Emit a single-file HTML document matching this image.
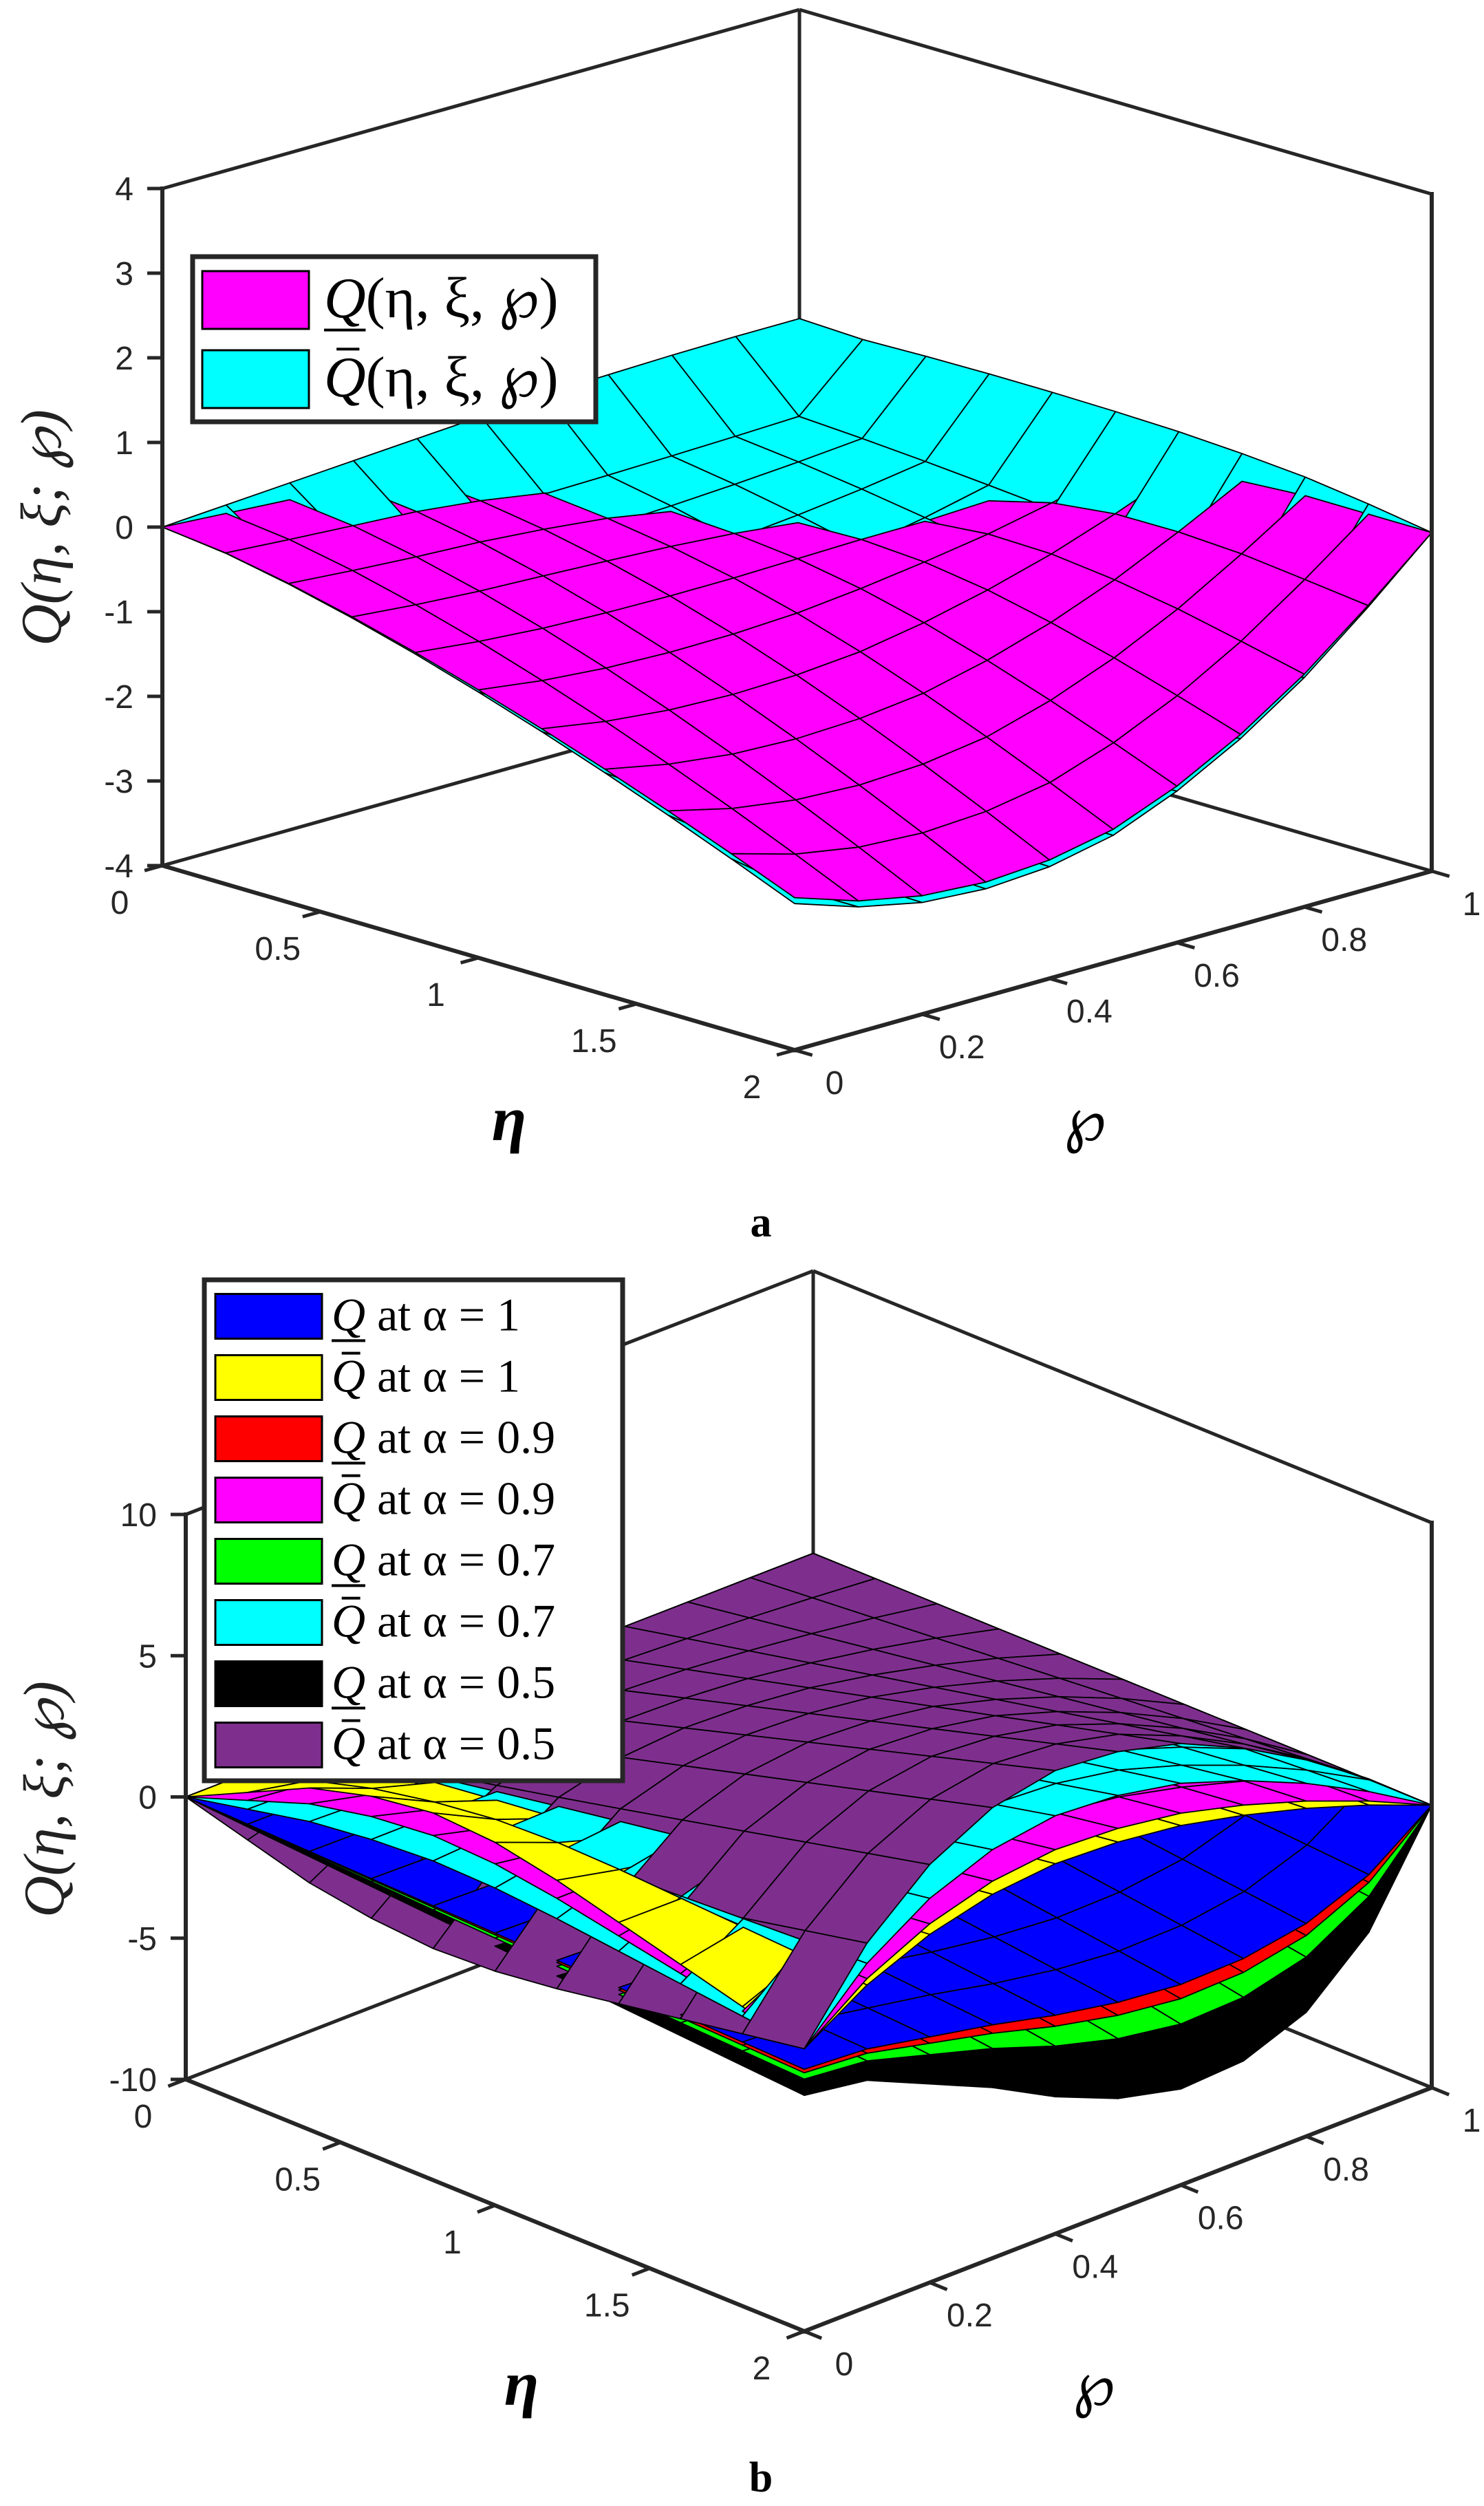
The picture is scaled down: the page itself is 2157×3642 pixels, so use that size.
<!DOCTYPE html>
<html><head><meta charset="utf-8"><title>Fuzzy surfaces Q(η, ξ; ℘)</title>
<style>
html,body{margin:0;padding:0;background:#fff;}
svg{display:block;}
</style></head>
<body>
<svg id="fig" xmlns="http://www.w3.org/2000/svg" width="2157" height="3642" viewBox="0 0 2157 3642">
<rect x="0" y="0" width="2157" height="3642" fill="#fff"/>
<g id="chartA"></g>
<g id="chartB"></g>
</svg>
<script>
// ---- shared grid data ----
const etaGrid = [0,0.2,0.4,0.6,0.8,1.0,1.2,1.4,1.6,1.8,2.0];
const phiGrid = [0,0.1,0.2,0.3,0.4,0.5,0.6,0.7,0.8,0.9,1.0];
const etaTicks = [0,0.5,1,1.5,2];
const etaTickLabels = ["0","0.5","1","1.5","2"];
const phiTicks = [0,0.2,0.4,0.6,0.8,1];
const phiTickLabels = ["0","0.2","0.4","0.6","0.8","1"];
// ---- chart a data ----
const aZTicks = [-4,-3,-2,-1,0,1,2,3,4];
const aZTickLabels = ["-4","-3","-2","-1","0","1","2","3","4"];
const aFrontEta = [0,0.04,0.105,0.185,0.277,0.379,0.489,0.607,0.732,0.863,1];
const aLowerFrontPhi = [-2.2,-2.45,-2.6,-2.65,-2.6,-2.45,-2.15,-1.75,-1.25,-0.65,0];
const aLowerBackEta = [1,0.85,0.65,0.45,0.27,0.14,0.06,0.02,0,0,0];
const aLowerBackPhi = [0,-0.05,-0.1,-0.15,-0.25,-0.4,-0.65,-1.0,-1.5,-2.0,-2.4];
const aUpperFrontPhi = [-2.27,-2.52,-2.68,-2.73,-2.68,-2.52,-2.21,-1.8,-1.29,-0.67,0];
const aUpperInnerEta = [0,1,1,1,1,1,1,1,1,1,0];
const aUpperInnerPhi = [0,-0.35,-0.35,-0.35,-0.35,-0.35,-0.35,-0.35,-0.35,-0.35,0];
const aUpperEdgeEta0 = [1,0,0,0,0,0,0,0,0,0,0];
const aUpperEdgePhi0 = [0,0.05,0.1,0.15,0.2,0.25,0.3,0.32,0.34,0.35,0.35];
const aUpperEdgeEta1 = [0,0.32,0.34,0.35,0.35,0.34,0.32,0.28,0.22,0.12,0];
const aUpperEdgePhi1 = [0,0,0,0,0,0,0,0,0,0,1];
// ---- chart b data ----
const bZTicks = [-10,-5,0,5,10];
const bZTickLabels = ["-10","-5","0","5","10"];
const bEta = [0,0.1,0.2,0.3,0.4,0.5,0.6,0.7,0.8,0.9,1];
const bUpperPhi = [0,0.45,0.75,0.93,1,0.97,0.88,0.72,0.52,0.28,0];
const bLowerPhi = [0.25,0.3,0.45,0.6,0.78,0.92,1,0.98,0.85,0.55,0];
const bFlapEta = [0,0.35,0.7,0.9,1,0.95,0.8,0.6,0.4,0.2,0];
const bFlapPhi = [1,0.45,0.05,0,0,0,0,0,0,0,0];
const bPurpleAmp = [6.4,6.4,6.4,6.4,6.4,6.4,6.4,6.4,6.4,6.4,6.4];
const bCyanAmp = [4.8,4.8,4.8,4.8,4.8,4.8,4.8,4.8,4.8,4.8,4.8];
const bMagentaAmp = [3.6,3.6,3.6,3.6,3.6,3.6,3.6,3.6,3.6,3.6,3.6];
const bYellowAmp = [3.1,3.1,3.1,3.1,3.1,3.1,3.1,3.1,3.1,3.1,3.1];
const bPurpleFlap = [-1.8,-1.8,-1.8,-1.8,-1.8,-1.8,-1.8,-1.8,-1.8,-1.8,-1.8];
const bCyanFlap = [1.3,1.3,1.3,1.3,1.3,1.3,1.3,1.3,1.3,1.3,1.3];
const bMagentaFlap = [2.2,2.2,2.2,2.2,2.2,2.2,2.2,2.2,2.2,2.2,2.2];
const bYellowFlap = [3.0,3.0,3.0,3.0,3.0,3.0,3.0,3.0,3.0,3.0,3.0];
const bBlueAmp = [-2.9,-2.9,-2.9,-2.9,-2.9,-2.9,-2.9,-2.9,-2.9,-2.9,-2.9];
const bRedAmp = [-3.4,-3.4,-3.4,-3.4,-3.4,-3.4,-3.4,-3.4,-3.4,-3.4,-3.4];
const bGreenAmp = [-4.3,-4.3,-4.3,-4.3,-4.3,-4.3,-4.3,-4.3,-4.3,-4.3,-4.3];
const bBlackAmp = [-6.6,-6.6,-6.6,-6.6,-6.6,-6.6,-6.6,-6.6,-6.6,-6.6,-6.6];

const NS = "http://www.w3.org/2000/svg";
function mk(parent, tag, attrs){
  const e = document.createElementNS(NS, tag);
  for (const k in attrs) e.setAttribute(k, attrs[k]);
  parent.appendChild(e);
  return e;
}
function grid(terms){
  const z=[];
  for(let i=0;i<etaGrid.length;i++){z.push([]);for(let j=0;j<phiGrid.length;j++){
    let v=0; terms.forEach(t=>{v+=t[0][i]*t[1][j];}); z[i].push(v);}}
  return z;
}
function scaled(amp, prof){
  return amp.map((a,i)=>a*prof[i]);
}

function drawChart(g, cfg){
  const L=cfg.L,F=cfg.F,R=cfg.R;
  const B={x:L.x+R.x-F.x,y:L.y+R.y-F.y};
  function base(eta,phi){return {x:L.x+eta/2*(F.x-L.x)+phi*(R.x-F.x), y:L.y+eta/2*(F.y-L.y)+phi*(R.y-F.y)};}
  function P(eta,phi,z){const b=base(eta,phi);return {x:b.x,y:b.y-(z-cfg.zmin)*cfg.unit,by:b.y};}
  function zY(pt,z){return pt.y-(z-cfg.zmin)*cfg.unit;}
  const stroke="#262626", lw=6;
  const back=[[L,B,cfg.zmin,cfg.zmin],[B,R,cfg.zmin,cfg.zmin],[B,B,cfg.zmin,cfg.zmax],[L,B,cfg.zmax,cfg.zmax],[B,R,cfg.zmax,cfg.zmax]];
  const backNames=["floor-back-left-edge","floor-back-right-edge","back-vertical-edge","top-back-left-edge","top-back-right-edge"];
  back.forEach((s,k)=>{
    const ln=mk(g,"line",{x1:s[0].x,y1:zY(s[0],s[2]),x2:s[1].x,y2:zY(s[1],s[3]),stroke:stroke,"stroke-width":5});
    
    
  });
  const quads=[];
  cfg.surfaces.forEach((s,si)=>{
    const z=s.z;
    for(let i=0;i<etaGrid.length-1;i++)for(let j=0;j<phiGrid.length-1;j++){
      const pts=[P(etaGrid[i],phiGrid[j],z[i][j]),P(etaGrid[i+1],phiGrid[j],z[i+1][j]),P(etaGrid[i+1],phiGrid[j+1],z[i+1][j+1]),P(etaGrid[i],phiGrid[j+1],z[i][j+1])];
      const zc=(z[i][j]+z[i+1][j]+z[i+1][j+1]+z[i][j+1])/4;
      const byc=(pts[0].by+pts[1].by+pts[2].by+pts[3].by)/4;
      const depth=byc*1.7+(zc-cfg.zmin)*cfg.unit*0.58+si*0.01;
      quads.push({pts:pts,depth:depth,color:s.color,name:s.name});
    }
  });
  quads.sort((a,b)=>a.depth-b.depth);
  const sg=mk(g,"g",{});
  
  
  quads.forEach(q=>{
    const pg=mk(sg,"polygon",{points:q.pts.map(p=>p.x.toFixed(1)+","+p.y.toFixed(1)).join(" "),fill:q.color,stroke:"#000","stroke-width":1.8,"stroke-linejoin":"round"});
    
    
  });
  const front=[[L,L,cfg.zmin,cfg.zmax,"z-axis-line"],[R,R,cfg.zmin,cfg.zmax,"right-vertical-edge"],[L,F,cfg.zmin,cfg.zmin,"eta-axis-line"],[F,R,cfg.zmin,cfg.zmin,"phi-axis-line"]];
  front.forEach(s=>{
    const ln=mk(g,"line",{x1:s[0].x,y1:zY(s[0],s[2]),x2:s[1].x,y2:zY(s[1],s[3]),stroke:stroke,"stroke-width":lw,"stroke-linecap":"square"});
    
    
  });
  cfg.zTicks.forEach((t,k)=>{
    const y=zY(L,t);
    const tk=mk(g,"line",{x1:L.x-22,y1:y,x2:L.x,y2:y,stroke:stroke,"stroke-width":5});
    
    
    const tx=mk(g,"text",{x:L.x-42,y:y+17,"text-anchor":"end","font-family":"Liberation Sans, sans-serif","font-size":48,fill:stroke});
    tx.textContent=cfg.zTickLabels[k];
    
    
  });
  etaTicks.forEach((t,k)=>{
    const b=base(t,0);
    const tk=mk(g,"line",{x1:b.x,y1:b.y,x2:b.x-(R.x-F.x)*0.028,y2:b.y-(R.y-F.y)*0.028,stroke:stroke,"stroke-width":5});
    
    
    const tx=mk(g,"text",{x:b.x-62,y:b.y+70,"text-anchor":"middle","font-family":"Liberation Sans, sans-serif","font-size":48,fill:stroke});
    tx.textContent=etaTickLabels[k];
    
    
  });
  phiTicks.forEach((t,k)=>{
    const b=base(2,t);
    const tk=mk(g,"line",{x1:b.x,y1:b.y,x2:b.x+(F.x-L.x)*0.028,y2:b.y+(F.y-L.y)*0.028,stroke:stroke,"stroke-width":5});
    
    
    const tx=mk(g,"text",{x:b.x+58,y:b.y+64,"text-anchor":"middle","font-family":"Liberation Sans, sans-serif","font-size":48,fill:stroke});
    tx.textContent=phiTickLabels[k];
    
    
  });
  const et=mk(g,"text",{x:cfg.etaTitle.x,y:cfg.etaTitle.y+30,"text-anchor":"middle","font-family":"Liberation Serif, DejaVu Serif, serif","font-style":"italic","font-weight":"bold","font-size":92,fill:"#000"});
  et.textContent="η";
  
  
  const pt=mk(g,"text",{x:cfg.phiTitle.x,y:cfg.phiTitle.y+30,"text-anchor":"middle","font-family":"DejaVu Serif, serif","font-size":88,fill:"#000"});
  pt.textContent="℘";
  
  
  const yt=mk(g,"text",{x:0,y:0,"text-anchor":"middle","font-family":"Liberation Serif, DejaVu Serif, serif","font-style":"italic","font-size":84,fill:"#222",transform:"translate("+cfg.yTitle.x+","+cfg.yTitle.y+") rotate(-90)"});
  yt.textContent="Q(η, ξ; ℘)";
  
  
  const pl=mk(g,"text",{x:cfg.panel.x,y:cfg.panel.y+20,"text-anchor":"middle","font-family":"Liberation Serif, serif","font-weight":"bold","font-size":62,fill:"#000"});
  pl.textContent=cfg.panelText;
  
  
  const lg=mk(g,"g",{});
  
  
  const lb=cfg.legend;
  mk(lg,"rect",{x:lb.x,y:lb.y,width:lb.w,height:lb.h,fill:"#fff",stroke:"#262626","stroke-width":7});
  lb.entries.forEach((en,k)=>{
    const cy=lb.rowY[k];
    const eg=mk(lg,"g",{});
    
    
    mk(eg,"rect",{x:lb.sx,y:cy-lb.sh/2,width:lb.sw,height:lb.sh,fill:en.color,stroke:"#000","stroke-width":3});
    const t=mk(eg,"text",{x:lb.tx,y:cy+lb.fs*0.3,"font-family":"Liberation Serif, DejaVu Serif, serif","font-size":lb.fs,fill:"#000"});
    const q=mk(t,"tspan",{"font-style":"italic"}); q.textContent="Q";
    const r=mk(t,"tspan",{}); r.textContent=en.rest;
    const qw=lb.fs*0.72;
    if(en.lower){mk(eg,"line",{x1:lb.tx,y1:cy+lb.fs*0.52,x2:lb.tx+qw,y2:cy+lb.fs*0.52,stroke:"#000","stroke-width":4});}
    else{mk(eg,"line",{x1:lb.tx+qw*0.3,y1:cy-lb.fs*0.52,x2:lb.tx+qw*0.85,y2:cy-lb.fs*0.52,stroke:"#000","stroke-width":4});}
  });
}

drawChart(document.getElementById("chartA"),{
  id:"chart-a", L:{x:236,y:1258}, F:{x:1155,y:1526}, R:{x:2081,y:1266}, unit:123, zmin:-4, zmax:4,
  zTicks:aZTicks, zTickLabels:aZTickLabels,
  surfaces:[
    {name:"upper-q", color:"#00ffff", z:grid([[aFrontEta,aUpperFrontPhi],[aUpperInnerEta,aUpperInnerPhi],[aUpperEdgeEta0,aUpperEdgePhi0],[aUpperEdgeEta1,aUpperEdgePhi1]])},
    {name:"lower-q", color:"#ff00ff", z:grid([[aFrontEta,aLowerFrontPhi],[aLowerBackEta,aLowerBackPhi]])}
  ],
  etaTitle:{x:740,y:1627}, phiTitle:{x:1577,y:1627}, yTitle:{x:88,y:767}, panel:{x:1106,y:1777}, panelText:"a",
  legend:{x:280,y:373,w:586,h:240,sx:294,sw:155,sh:84,tx:471,fs:84,rowY:[436,551],
    entries:[{color:"#ff00ff",rest:"(η, ξ, ℘)",lower:true},{color:"#00ffff",rest:"(η, ξ, ℘)",lower:false}]}
});

drawChart(document.getElementById("chartB"),{
  id:"chart-b", L:{x:270,y:3022}, F:{x:1169,y:3388}, R:{x:2081,y:3034}, unit:41.05, zmin:-10, zmax:10,
  zTicks:bZTicks, zTickLabels:bZTickLabels,
  surfaces:[
    {name:"lower-q-alpha-0.5", color:"#000000", z:grid([[scaled(bBlackAmp,bEta),bLowerPhi]])},
    {name:"lower-q-alpha-0.7", color:"#00ff00", z:grid([[scaled(bGreenAmp,bEta),bLowerPhi]])},
    {name:"lower-q-alpha-0.9", color:"#ff0000", z:grid([[scaled(bRedAmp,bEta),bLowerPhi]])},
    {name:"lower-q-alpha-1", color:"#0000ff", z:grid([[scaled(bBlueAmp,bEta),bLowerPhi]])},
    {name:"upper-q-alpha-1", color:"#ffff00", z:grid([[scaled(bYellowAmp,bEta),bUpperPhi],[scaled(bYellowFlap,bFlapEta),bFlapPhi]])},
    {name:"upper-q-alpha-0.9", color:"#ff00ff", z:grid([[scaled(bMagentaAmp,bEta),bUpperPhi],[scaled(bMagentaFlap,bFlapEta),bFlapPhi]])},
    {name:"upper-q-alpha-0.7", color:"#00ffff", z:grid([[scaled(bCyanAmp,bEta),bUpperPhi],[scaled(bCyanFlap,bFlapEta),bFlapPhi]])},
    {name:"upper-q-alpha-0.5", color:"#7e2f8e", z:grid([[scaled(bPurpleAmp,bEta),bUpperPhi],[scaled(bPurpleFlap,bFlapEta),bFlapPhi]])}
  ],
  etaTitle:{x:758,y:3465}, phiTitle:{x:1590,y:3465}, yTitle:{x:92,y:2615}, panel:{x:1106,y:3601}, panelText:"b",
  legend:{x:297,y:1860,w:608,h:728,sx:313,sw:155,sh:65,tx:482,fs:68,rowY:[1913,2002,2091,2180,2269,2358,2447,2536],
    entries:[
      {color:"#0000ff",rest:" at α = 1",lower:true},
      {color:"#ffff00",rest:" at α = 1",lower:false},
      {color:"#ff0000",rest:" at α = 0.9",lower:true},
      {color:"#ff00ff",rest:" at α = 0.9",lower:false},
      {color:"#00ff00",rest:" at α = 0.7",lower:true},
      {color:"#00ffff",rest:" at α = 0.7",lower:false},
      {color:"#000000",rest:" at α = 0.5",lower:true},
      {color:"#7e2f8e",rest:" at α = 0.5",lower:false}
    ]}
});
</script>
</body></html>
